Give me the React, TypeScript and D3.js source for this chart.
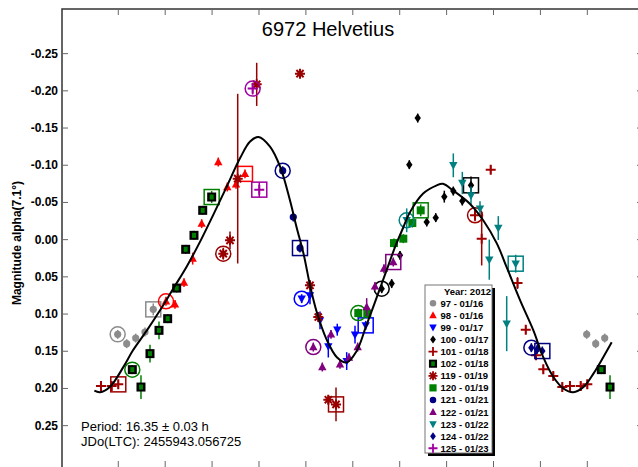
import React from "react";
import * as d3 from "d3";

const W = 638;
const H = 467;

const title = "6972 Helvetius";
const yAxisTitle = "Magnitude alpha(7.1°)";
const periodLines = ["Period: 16.35 ± 0.03 h", "JDo(LTC): 2455943.056725"];
const legendTitle = "Year: 2012";

const xTicks = [0.1, 0.2, 0.3, 0.4, 0.5, 0.6, 0.7, 0.8, 0.9, 1.0, 1.1];
const yTicks = [-0.25, -0.2, -0.15, -0.1, -0.05, 0, 0.05, 0.1, 0.15, 0.2, 0.25];

// Fourier fit curve: [phase, mag]
const fitCurve: [number, number][] = [
  [0.049, 0.203], [0.061, 0.205], [0.082, 0.198], [0.111, 0.171], [0.131, 0.149],
  [0.161, 0.122], [0.189, 0.095], [0.217, 0.066], [0.246, 0.036], [0.275, 0.002],
  [0.303, -0.034], [0.331, -0.071], [0.360, -0.110], [0.381, -0.132], [0.399, -0.138],
  [0.4235, -0.125], [0.445, -0.098], [0.466, -0.053], [0.480, -0.017], [0.495, 0.019],
  [0.509, 0.062], [0.523, 0.097], [0.544, 0.134], [0.566, 0.158], [0.587, 0.165],
  [0.608, 0.150], [0.628, 0.117], [0.645, 0.088], [0.660, 0.062], [0.675, 0.036],
  [0.690, 0.010], [0.706, -0.014], [0.722, -0.037], [0.750, -0.062], [0.779, -0.073],
  [0.792, -0.075], [0.814, -0.066], [0.850, -0.048], [0.878, -0.026], [0.907, 0.005],
  [0.928, 0.037], [0.957, 0.082], [0.985, 0.122], [1.006, 0.158], [1.028, 0.185],
  [1.049, 0.200], [1.070, 0.205], [1.092, 0.198], [1.113, 0.180], [1.134, 0.158],
  [1.152, 0.138],
];

// Sessions: [phase, mag, err]; first point is ringed by circle, last by square
const s97: number[][] = [
  [0.0987, 0.1273, 0.006], [0.1179, 0.1398, 0.006], [0.1371, 0.1323, 0.006],
  [0.1569, 0.1242, 0.006], [0.1746, 0.0937, 0.008],
];
const s98: number[][] = [
  [0.2017, 0.0829, 0.006], [0.2209, 0.087, 0.006], [0.2401, 0.0578, 0.006],
  [0.2586, 0.0255, 0.008], [0.2778, -0.0215, 0.006], [0.3132, -0.1043, 0.006],
  [0.3324, -0.0707, 0.006], [0.351, -0.0743, 0.006], [0.3701, -0.0884, 0.006],
];
const s99: number[][] = [
  [0.491, 0.0793, 0.006], [0.5087, 0.0749, 0.012], [0.5301, 0.1085, 0.012],
  [0.5478, 0.1434, 0.015], [0.5669, 0.121, 0.008], [0.587, 0.1632, 0.012],
  [0.6047, 0.1277, 0.012], [0.6275, 0.1152, 0.006],
];
const s100: number[][] = [
  [0.6616, 0.0659, 0.006], [0.6829, 0.0591, 0.006], [0.7006, 0.0211, 0.006],
  [0.7205, -0.1008, 0.006], [0.7384, -0.1634, 0.006], [0.7576, -0.0237, 0.006],
  [0.7768, -0.0296, 0.006], [0.7951, -0.0578, 0.008], [0.8143, -0.0653, 0.006],
  [0.8335, -0.0519, 0.006], [0.852, -0.073, 0.012],
];
const s101: number[][] = [
  [0.8606, -0.0327, 0.008], [0.8748, -0.0013, 0.036], [0.894, -0.0941, 0.006],
  [0.9512, 0.0583, 0.008], [0.9687, 0.121, 0.006], [0.9906, 0.1555, 0.006],
  [0.0062, 0.1743, 0.006], [0.0275, 0.1833, 0.006], [0.0467, 0.1981, 0.006],
  [0.0631, 0.1968, 0.006], [0.0859, 0.1968, 0.006], [0.1, 0.1945, 0.006],
];
const s102: number[][] = [
  [0.1299, 0.1747, 0.006], [0.1484, 0.1981, 0.016], [0.1676, 0.1532, 0.012],
  [0.1868, 0.1219, 0.012], [0.2053, 0.1062, 0.006], [0.2245, 0.0651, 0.006],
  [0.2437, 0.013, 0.006], [0.2614, -0.0058, 0.006], [0.28, -0.0394, 0.006],
  [0.2991, -0.0573, 0.008],
];
const s119: number[][] = [
  [0.3238, 0.0188, 0.008], [0.3382, 0.0009, 0.012], [0.3546, -0.082, 0.114],
  [0.3951, -0.2087, 0.029], [0.4874, -0.2231, 0.004], [0.5087, 0.0614, 0.006],
  [0.5264, 0.104, 0.006], [0.5478, 0.2151, 0.006], [0.5642, 0.2214, 0.0227],
];
const s120: number[][] = [
  [0.6117, 0.0987, 0.006], [0.6309, 0.0995, 0.006], [0.6878, 0.0046, 0.006],
  [0.7077, -0.0013, 0.006], [0.7269, -0.0223, 0.006], [0.7448, -0.0394, 0.008],
];
const s121: number[][] = [
  [0.4505, -0.0927, 0.006], [0.4731, -0.0304, 0.006], [0.4874, 0.0113, 0.006],
];
const s122: number[][] = [
  [0.5158, 0.1444, 0.006], [0.535, 0.1712, 0.006], [0.5535, 0.1273, 0.006],
  [0.5727, 0.1676, 0.006], [0.5919, 0.1586, 0.006], [0.6104, 0.1444, 0.006],
  [0.6296, 0.0906, 0.012], [0.6473, 0.0628, 0.006], [0.6665, 0.039, 0.006],
  [0.6863, 0.0301, 0.006],
];
const s123: number[][] = [
  [0.7149, -0.026, 0.016], [0.8143, -0.0999, 0.016], [0.8335, -0.0761, 0.015],
  [0.852, -0.0595, 0.012], [0.8712, -0.0417, 0.01], [0.891, 0.0269, 0.027],
  [0.9102, -0.0156, 0.016], [0.9281, 0.1129, 0.037], [0.9473, 0.0323, 0.012],
];
const s124: number[][] = [
  [0.9807, 0.1452, 0.006], [0.993, 0.1475, 0.006], [0.0041, 0.1497, 0.006],
];
const s125: number[][] = [
  [0.3865, -0.203, 0.008], [0.4006, -0.0672, 0.01],
];

const sessionLabels = [
  "97 - 01/16", "98 - 01/16", "99 - 01/17", "100 - 01/17", "101 - 01/18",
  "102 - 01/18", "119 - 01/19", "120 - 01/19", "121 - 01/21", "122 - 01/21",
  "123 - 01/22", "124 - 01/22", "125 - 01/23",
];
const sessionData = [s97, s98, s99, s100, s101, s102, s119, s120, s121, s122, s123, s124, s125];

// styles (separate from data)
const sessionStyles = [
  { color: "#8c8c8c", shape: "circle" },
  { color: "#ff0000", shape: "triUp" },
  { color: "#0000ff", shape: "triDown" },
  { color: "#000000", shape: "diamond" },
  { color: "#a00000", shape: "plus" },
  { color: "#008000", shape: "blackSquare" },
  { color: "#990000", shape: "asterisk" },
  { color: "#008000", shape: "square" },
  { color: "#000080", shape: "circle" },
  { color: "#800080", shape: "triUp" },
  { color: "#008080", shape: "triDown" },
  { color: "#000080", shape: "diamond" },
  { color: "#a000a0", shape: "plus" },
];

const FONT = "'Liberation Sans', Arial, Helvetica, sans-serif";

const x = d3.scaleLinear().domain([-0.02, 1.22]).range([62, 643.6]);
const y = d3.scaleLinear().domain([-0.31, 0.31]).range([9, 470.3]);

function Marker({ cx, cy, shape, color, s = 1 }: any) {
  const t = `translate(${cx},${cy}) scale(${s})`;
  switch (shape) {
    case "circle":
      return <circle cx={cx} cy={cy} r={3.6 * s} fill={color} />;
    case "triUp":
      return <path transform={t} d="M0,-4.5L4.2,3.2L-4.2,3.2Z" fill={color} />;
    case "triDown":
      return <path transform={t} d="M0,4.5L4.2,-3.2L-4.2,-3.2Z" fill={color} />;
    case "diamond":
      return <path transform={t} d="M0,-4.5L3.2,0L0,4.5L-3.2,0Z" fill={color} />;
    case "plus":
      return (
        <path transform={t} d="M-5,0H5M0,-5V5" stroke={color} strokeWidth={2} fill="none" />
      );
    case "asterisk":
      return (
        <path
          transform={t}
          d="M-5,0H5M0,-5V5M-3.6,-3.6L3.6,3.6M-3.6,3.6L3.6,-3.6"
          stroke={color}
          strokeWidth={2}
          fill="none"
        />
      );
    case "blackSquare":
      return (
        <g transform={t}>
          <rect x={-4.5} y={-4.5} width={9} height={9} fill="#000" />
          <rect x={-2} y={-2.5} width={4} height={5} fill={color} />
        </g>
      );
    case "square":
      return <rect transform={t} x={-4} y={-4} width={8} height={8} fill={color} />;
    default:
      return null;
  }
}

function plotPhases(p: number): { px: number; primary: boolean }[] {
  const out: { px: number; primary: boolean }[] = [];
  if (p < 0.05) out.push({ px: p + 1, primary: true });
  else {
    out.push({ px: p, primary: true });
    if (p + 1 <= 1.15) out.push({ px: p + 1, primary: false });
  }
  return out;
}

export default function App() {
  const line = d3
    .line<[number, number]>()
    .x((d) => x(d[0]))
    .y((d) => y(d[1]))
    .curve(d3.curveCatmullRom.alpha(0.5));

  const legendX = 425;
  const legendY = 285;
  const rowY = (i: number) => 303.3 + 12.08 * i;

  return (
    <svg
      width={W}
      height={H}
      style={{ position: "absolute", left: 0, top: 0, background: "#fff" }}
      fontFamily={FONT}
    >
      <rect x={0} y={0} width={W} height={H} fill="#fff" />
      {/* frame */}
      <rect x={62} y={9} width={581.6} height={461.3} fill="none" stroke="#333" strokeWidth={1.5} />
      {/* x ticks top & bottom */}
      {xTicks.map((t) => (
        <g key={"xt" + t}>
          <line x1={x(t)} x2={x(t)} y1={9} y2={15} stroke="#666" strokeWidth={1} />
          <line x1={x(t)} x2={x(t)} y1={461} y2={470} stroke="#666" strokeWidth={1} />
        </g>
      ))}
      {/* y ticks left & right */}
      {yTicks.map((t) => (
        <g key={"yt" + t}>
          <line x1={62} x2={68} y1={y(t)} y2={y(t)} stroke="#666" strokeWidth={1} />
          <line x1={637} x2={643} y1={y(t)} y2={y(t)} stroke="#666" strokeWidth={1} />
          <text
            x={58}
            y={y(t)}
            textAnchor="end"
            dominantBaseline="central"
            fontSize={12}
            fontWeight="bold"
            fill="#000"
          >
            {t.toFixed(2)}
          </text>
        </g>
      ))}
      <text
        transform={`translate(17,243) rotate(-90)`}
        textAnchor="middle"
        dominantBaseline="central"
        fontSize={12}
        fontWeight="bold"
      >
        {yAxisTitle}
      </text>
      <text x={328} y={36} textAnchor="middle" fontSize={20}>
        {title}
      </text>
      <text x={81} y={431} fontSize={13}>
        {periodLines[0]}
      </text>
      <text x={81} y={446} fontSize={13}>
        {periodLines[1]}
      </text>

      {/* data */}
      {sessionData.map((data, si) => {
        const st = sessionStyles[si];
        const ring = st.color;
        return (
          <g key={"s" + si}>
            {data.map((d, i) =>
              plotPhases(d[0]).map((pp, k) => {
                const cx = x(pp.px);
                const cy = y(d[1]);
                return (
                  <g key={i + "-" + k}>
                    {d[2] > 0 && (
                      <line
                        x1={cx}
                        x2={cx}
                        y1={y(d[1] - d[2])}
                        y2={y(d[1] + d[2])}
                        stroke={st.color}
                        strokeWidth={1.5}
                      />
                    )}
                    <Marker cx={cx} cy={cy} shape={st.shape} color={st.color} />
                    {pp.primary && i === 0 && (
                      <circle cx={cx} cy={cy} r={7.5} fill="none" stroke={ring} strokeWidth={1.5} />
                    )}
                    {pp.primary && i === data.length - 1 && (
                      <rect
                        x={cx - 7.5}
                        y={cy - 7.5}
                        width={15}
                        height={15}
                        fill="none"
                        stroke={ring}
                        strokeWidth={1.5}
                      />
                    )}
                  </g>
                );
              })
            )}
          </g>
        );
      })}

      {/* fit curve */}
      <path d={line(fitCurve) || ""} fill="none" stroke="#000" strokeWidth={2} />

      {/* legend */}
      <rect x={legendX + 3} y={legendY + 3} width={67} height={168} fill="#000" />
      <rect x={legendX} y={legendY} width={67} height={168} fill="#fff" stroke="#777" strokeWidth={1} />
      <text
        x={legendX + 66}
        y={291.7}
        textAnchor="end"
        dominantBaseline="central"
        fontSize={9.5}
        fontWeight="bold"
      >
        {legendTitle}
      </text>
      {sessionLabels.map((lab, i) => (
        <g key={"lg" + i}>
          <Marker cx={433} cy={rowY(i)} shape={sessionStyles[i].shape} color={sessionStyles[i].color} s={0.9} />
          <text x={440.5} y={rowY(i)} dominantBaseline="central" fontSize={9.5} fontWeight="bold">
            {lab}
          </text>
        </g>
      ))}
    </svg>
  );
}
